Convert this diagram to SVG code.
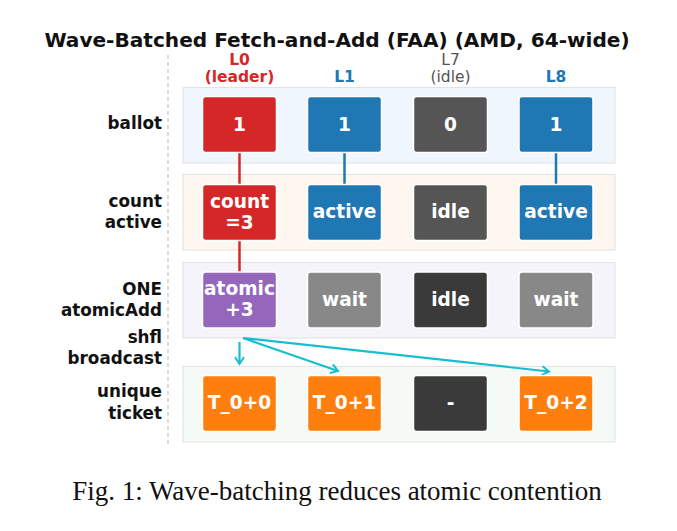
<svg xmlns="http://www.w3.org/2000/svg" width="677" height="531" viewBox="0 0 677 531">
<style>
.title{font-family:"DejaVu Sans",sans-serif;font-weight:bold;font-size:20.1px;fill:#111;text-anchor:middle}
.rl{font-family:"DejaVu Sans",sans-serif;font-weight:bold;font-size:16.8px;fill:#111;text-anchor:end}
.hd{font-family:"DejaVu Sans",sans-serif;font-size:15.5px;text-anchor:middle}
.hb{font-weight:bold}
.bt{font-family:"DejaVu Sans",sans-serif;font-weight:bold;font-size:18.6px;fill:#fff;text-anchor:middle}
.band{stroke:#e2e2e2;stroke-width:1}
.box{stroke:#fff;stroke-width:1.5}
.cap{font-family:"Liberation Serif",serif;font-size:27px;fill:#111;text-anchor:middle}
.arr{stroke:#17becf;stroke-width:2.2;fill:none;marker-end:url(#ah)}
</style>
<defs>
<marker id="ah" markerUnits="userSpaceOnUse" markerWidth="12" markerHeight="12" viewBox="-8 -6 10 12" refX="0" refY="0" orient="auto">
<path d="M-7,-4.5 L0,0 L-7,4.5" fill="none" stroke="#17becf" stroke-width="2"/>
</marker>
</defs>
<rect width="677" height="531" fill="#fff"/>
<text class="title" x="337" y="47">Wave-Batched Fetch-and-Add (FAA) (AMD, 64-wide)</text>
<line x1="168" y1="55" x2="168" y2="446" stroke="#c4c4c4" stroke-width="1.2" stroke-dasharray="4,3"/>
<g id="bands">
<rect class="band" x="183" y="87.5" width="432" height="75.5" fill="#f0f6fe"/>
<rect class="band" x="183" y="174.5" width="432" height="75.5" fill="#fdf7f0"/>
<rect class="band" x="183" y="262.5" width="432" height="75.5" fill="#f5f4fb"/>
<rect class="band" x="183" y="366.5" width="432" height="75.5" fill="#f5faf6"/>
</g>
<g id="headers">
<text class="hd hb" x="239.5" y="65" fill="#d62728">L0</text>
<text class="hd hb" x="239.5" y="82" fill="#d62728">(leader)</text>
<text class="hd hb" x="344.5" y="82" fill="#1f77b4">L1</text>
<text class="hd" x="450.5" y="65" fill="#555">L7</text>
<text class="hd" x="450.5" y="82" fill="#555">(idle)</text>
<text class="hd hb" x="556" y="82" fill="#1f77b4">L8</text>
</g>
<g id="rowlabels">
<text class="rl" x="162" y="129">ballot</text>
<text class="rl" x="162" y="207">count</text>
<text class="rl" x="162" y="228">active</text>
<text class="rl" x="162" y="295">ONE</text>
<text class="rl" x="162" y="315.5">atomicAdd</text>
<text class="rl" x="162" y="342.5">shfl</text>
<text class="rl" x="162" y="363.5">broadcast</text>
<text class="rl" x="162" y="397">unique</text>
<text class="rl" x="162" y="418.5">ticket</text>
</g>
<g id="connectors">
<line x1="239.5" y1="152" x2="239.5" y2="185" stroke="#d62728" stroke-width="2.5"/>
<line x1="239.5" y1="240" x2="239.5" y2="272" stroke="#d62728" stroke-width="2.5"/>
<line x1="344.5" y1="152" x2="344.5" y2="185" stroke="#1f77b4" stroke-width="2.5"/>
<line x1="556" y1="152" x2="556" y2="185" stroke="#1f77b4" stroke-width="2.5"/>
<line class="arr" x1="239.5" y1="342" x2="239.5" y2="364"/>
<line class="arr" x1="243" y1="338" x2="338" y2="371"/>
<line class="arr" x1="243" y1="338" x2="549" y2="371.5"/>
</g>
<g id="n-ballot-L0"><rect class="box" x="202.5" y="96.5" width="74" height="56" rx="3" fill="#d62728"/><text class="bt" x="239.5" y="130.5">1</text></g>
<g id="n-ballot-L1"><rect class="box" x="307.5" y="96.5" width="74" height="56" rx="3" fill="#1f77b4"/><text class="bt" x="344.5" y="130.5">1</text></g>
<g id="n-ballot-L7"><rect class="box" x="413.5" y="96.5" width="74" height="56" rx="3" fill="#555555"/><text class="bt" x="450.5" y="130.5">0</text></g>
<g id="n-ballot-L8"><rect class="box" x="519" y="96.5" width="74" height="56" rx="3" fill="#1f77b4"/><text class="bt" x="556" y="130.5">1</text></g>
<g id="n-count-L0"><rect class="box" x="202.5" y="184.5" width="74" height="56" rx="3" fill="#d62728"/><text class="bt" x="239.5" y="207.5">count</text><text class="bt" x="239.5" y="228.5">=3</text></g>
<g id="n-count-L1"><rect class="box" x="307.5" y="184.5" width="74" height="56" rx="3" fill="#1f77b4"/><text class="bt" x="344.5" y="218">active</text></g>
<g id="n-count-L7"><rect class="box" x="413.5" y="184.5" width="74" height="56" rx="3" fill="#555555"/><text class="bt" x="450.5" y="218">idle</text></g>
<g id="n-count-L8"><rect class="box" x="519" y="184.5" width="74" height="56" rx="3" fill="#1f77b4"/><text class="bt" x="556" y="218">active</text></g>
<g id="n-atomic-L0"><rect class="box" x="202.5" y="272" width="74" height="56" rx="3" fill="#9467bd"/><text class="bt" x="239.5" y="294.5">atomic</text><text class="bt" x="239.5" y="315.5">+3</text></g>
<g id="n-atomic-L1"><rect class="box" x="307.5" y="272" width="74" height="56" rx="3" fill="#888888"/><text class="bt" x="344.5" y="305.5">wait</text></g>
<g id="n-atomic-L7"><rect class="box" x="413.5" y="272" width="74" height="56" rx="3" fill="#3a3a3a"/><text class="bt" x="450.5" y="305.5">idle</text></g>
<g id="n-atomic-L8"><rect class="box" x="519" y="272" width="74" height="56" rx="3" fill="#888888"/><text class="bt" x="556" y="305.5">wait</text></g>
<g id="n-ticket-L0"><rect class="box" x="202.5" y="375.5" width="74" height="56" rx="3" fill="#ff7f0e"/><text class="bt" x="239.5" y="409">T_0+0</text></g>
<g id="n-ticket-L1"><rect class="box" x="307.5" y="375.5" width="74" height="56" rx="3" fill="#ff7f0e"/><text class="bt" x="344.5" y="409">T_0+1</text></g>
<g id="n-ticket-L7"><rect class="box" x="413.5" y="375.5" width="74" height="56" rx="3" fill="#3a3a3a"/><text class="bt" x="450.5" y="409">-</text></g>
<g id="n-ticket-L8"><rect class="box" x="519" y="375.5" width="74" height="56" rx="3" fill="#ff7f0e"/><text class="bt" x="556" y="409">T_0+2</text></g>
<text class="cap" x="337" y="500">Fig. 1: Wave-batching reduces atomic contention</text>
</svg>
